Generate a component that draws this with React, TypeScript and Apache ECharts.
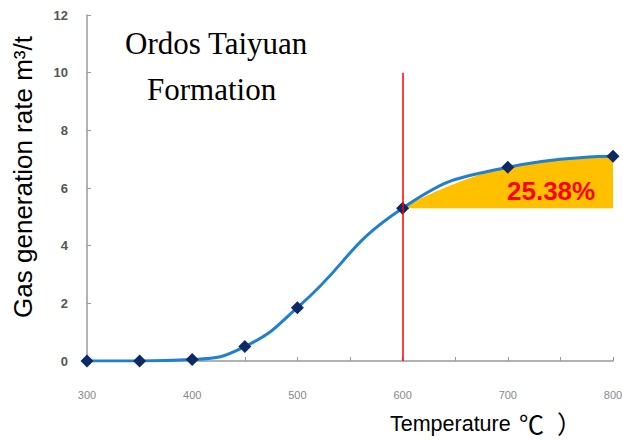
import React, { useEffect, useRef } from "react";
import * as echarts from "echarts";

const temperatures = [300, 350, 400, 450, 500, 600, 700, 800];
const gasRates = [0, 0, 0.05, 0.5, 1.85, 5.3, 6.72, 7.1];
const shadedStart = 600;
const shadedLabel = "25.38%";
const yTicks = [0, 2, 4, 6, 8, 10, 12];
const markLineTop = 10;

export default function App() {
  const ref = useRef<HTMLDivElement>(null);
  useEffect(() => {
    if (!ref.current) return;
    const chart = echarts.init(ref.current, null, { renderer: "svg" });
    const mainData = temperatures.map((t, i) => [t, gasRates[i]]);
    const shadedData = mainData.filter((d) => d[0] >= shadedStart);
    const baseVal = shadedData[0][1];
    chart.setOption({
      animation: false,
      backgroundColor: "#ffffff",
      grid: { left: 87, right: 10, top: 15, bottom: 80, outerBoundsMode: "none" },
      xAxis: {
        type: "value",
        min: 300,
        max: 800,
        interval: 50,
        axisLine: { lineStyle: { color: "#999999", width: 1.5 } },
        axisTick: { inside: true, length: 4, lineStyle: { color: "#999999" } },
        splitLine: { show: false },
        axisLabel: {
          color: "#888888",
          fontSize: 11,
          margin: 28,
          fontFamily: "Arial, Liberation Sans, sans-serif",
          formatter: (v: number) => (v % 100 === 0 ? String(v) : ""),
        },
      },
      yAxis: {
        type: "value",
        min: yTicks[0],
        max: yTicks[yTicks.length - 1],
        interval: 2,
        axisLine: { show: true, lineStyle: { color: "#999999", width: 1.5 } },
        axisTick: { show: true, inside: true, length: 4, lineStyle: { color: "#999999" } },
        splitLine: { show: false },
        axisLabel: {
          color: "#555555",
          fontSize: 13,
          fontWeight: "bold",
          margin: 19,
          fontFamily: "Arial, Liberation Sans, sans-serif",
        },
      },
      graphic: [
        {
          type: "text",
          x: 23,
          y: 177,
          rotation: Math.PI / 2,
          style: {
            text: "Gas generation rate m³/t",
            font: '26px Arial, "Liberation Sans", sans-serif',
            fill: "#000000",
            align: "center",
            verticalAlign: "middle",
          },
        },
        {
          type: "text",
          left: 125,
          top: 28,
          style: {
            text: "Ordos Taiyuan",
            font: '31px "Liberation Serif", "Times New Roman", serif',
            fill: "#000000",
          },
        },
        {
          type: "text",
          left: 147,
          top: 74,
          style: {
            text: "Formation",
            font: '31px "Liberation Serif", "Times New Roman", serif',
            fill: "#000000",
          },
        },
        {
          type: "text",
          left: 390,
          top: 413,
          style: {
            text: "Temperature",
            font: '21.5px Arial, "Liberation Sans", sans-serif',
            fill: "#000000",
          },
        },
        {
          type: "text",
          left: 519,
          top: 410,
          style: {
            text: "℃",
            font: '25px "Noto Sans CJK SC", sans-serif',
            fill: "#000000",
          },
        },
        {
          type: "text",
          left: 557,
          top: 410,
          style: {
            text: "）",
            font: '25px "Noto Sans CJK SC", sans-serif',
            fill: "#000000",
          },
        },
        {
          type: "text",
          left: 507,
          top: 178,
          z: 10,
          style: {
            text: shadedLabel,
            font: 'bold 26px Arial, "Liberation Sans", sans-serif',
            fill: "#ff0000",
          },
        },
      ],
      series: [
        {
          type: "line",
          data: shadedData,
          smooth: 0.5,
          showSymbol: false,
          lineStyle: { width: 0 },
          areaStyle: { color: "#FFC000", opacity: 1, origin: baseVal },
          z: 1,
          silent: true,
        },
        {
          type: "line",
          data: mainData,
          smooth: 0.5,
          symbol: "diamond",
          symbolSize: 13,
          itemStyle: { color: "#0d2a66" },
          lineStyle: { color: "#1f7fd0", width: 3 },
          z: 3,
          markLine: {
            silent: true,
            symbol: "none",
            label: { show: false },
            lineStyle: { color: "#ff0000", width: 1.5, type: "solid" },
            data: [[{ coord: [shadedStart, 0] }, { coord: [shadedStart, markLineTop] }]],
          },
        },
      ],
    });
    return () => chart.dispose();
  }, []);
  return (
    <div
      ref={ref}
      style={{ position: "fixed", left: 0, top: 0, width: 623, height: 441 }}
    />
  );
}
